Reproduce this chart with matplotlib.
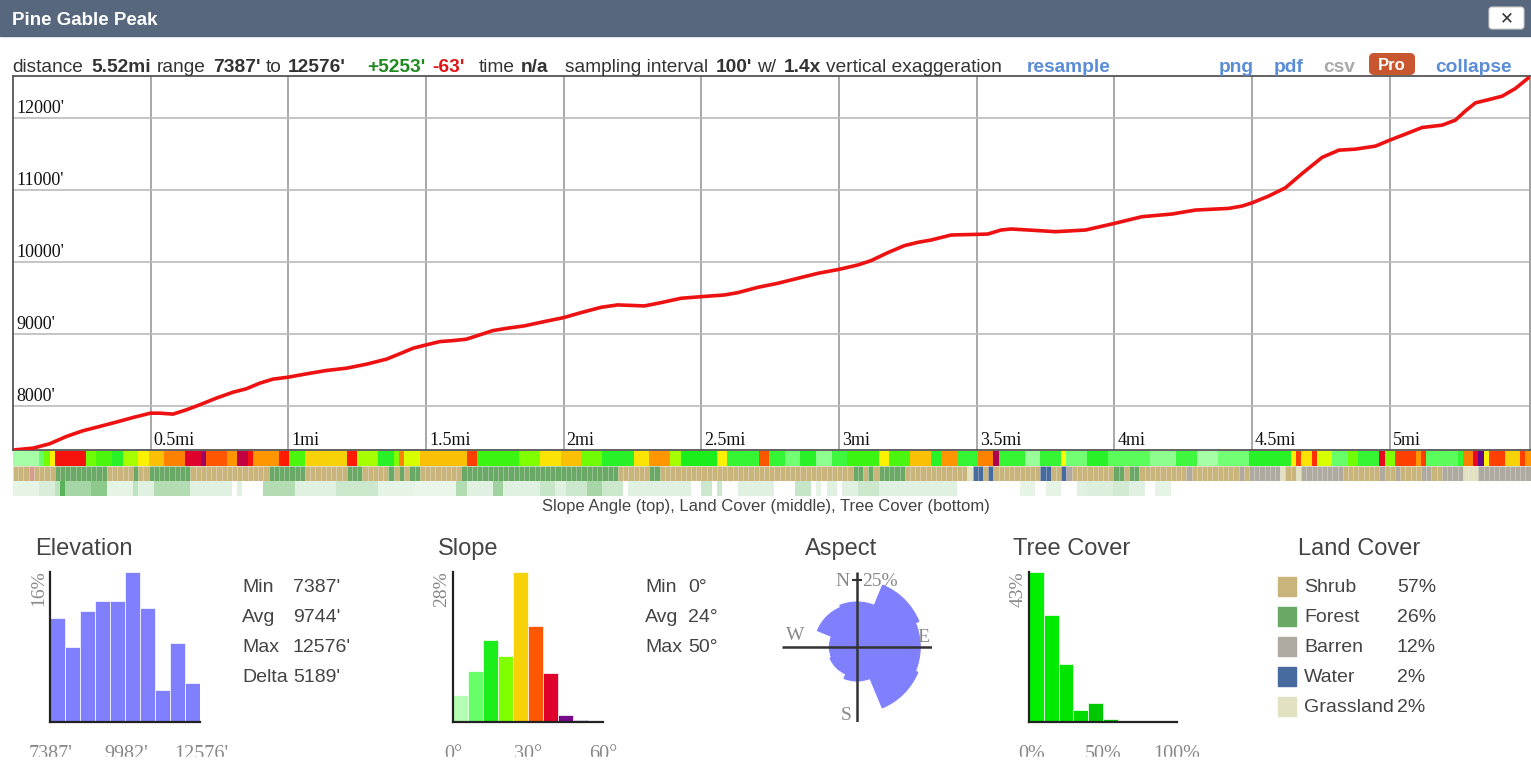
import numpy as np
import matplotlib
matplotlib.use("Agg")
import matplotlib.pyplot as plt
from matplotlib.colors import LinearSegmentedColormap
from matplotlib.patches import Rectangle, Wedge, FancyBboxPatch
from matplotlib.transforms import IdentityTransform

W, H = 1531, 766
SANS = "Liberation Sans"
SERIF = "Liberation Serif"

# ---- elevation profile (miles, feet) ----
dist_mi = [0.0, 0.073, 0.133, 0.194, 0.254, 0.315, 0.375, 0.436, 0.499, 0.533,
           0.581, 0.630, 0.678, 0.738, 0.799, 0.847, 0.896, 0.944, 0.999, 1.065,
           1.138, 1.211, 1.283, 1.356, 1.404, 1.453, 1.500, 1.550, 1.598, 1.646,
           1.695, 1.743, 1.792, 1.857, 1.930, 2.000, 2.063, 2.136, 2.196, 2.293,
           2.354, 2.426, 2.501, 2.584, 2.632, 2.705, 2.777, 2.850, 2.923, 3.001,
           3.068, 3.116, 3.177, 3.237, 3.286, 3.334, 3.407, 3.502, 3.540, 3.588,
           3.625, 3.689, 3.786, 3.895, 4.000, 4.100, 4.209, 4.294, 4.415, 4.463,
           4.501, 4.560, 4.621, 4.682, 4.754, 4.815, 4.875, 4.948, 5.000, 5.056,
           5.117, 5.190, 5.238, 5.275, 5.311, 5.360, 5.408, 5.456, 5.508, 5.520]
elev_ft = [7387, 7413, 7473, 7575, 7654, 7714, 7774, 7838, 7898, 7898,
           7885, 7945, 8014, 8106, 8189, 8236, 8314, 8370, 8397, 8443,
           8490, 8522, 8577, 8647, 8721, 8799, 8845, 8891, 8905, 8924,
           8984, 9044, 9075, 9109, 9169, 9224, 9293, 9367, 9400, 9386,
           9432, 9492, 9515, 9538, 9570, 9644, 9700, 9769, 9838, 9894,
           9954, 10014, 10125, 10222, 10268, 10300, 10370, 10379, 10383, 10439,
           10453, 10439, 10416, 10439, 10531, 10624, 10661, 10716, 10739, 10771,
           10818, 10910, 11025, 11224, 11446, 11547, 11561, 11603, 11686, 11769,
           11861, 11894, 11963, 12092, 12203, 12249, 12296, 12402, 12564, 12576]
mile_marks = [0.5, 1, 1.5, 2, 2.5, 3, 3.5, 4, 4.5, 5]
elev_marks = [8000, 9000, 10000, 11000, 12000]

# ---- strips: run-length lists of (cells, value), one cell = 100 ft ----
slope_runs = [
    (5, 4), (1, 9), (1, 20), (1, 25), (6, 37), (2, 20), (3, 18), (2, 14), (3, 22), (2, 25),
    (3, 28), (4, 31), (3, 39), (1, 43), (4, 33), (2, 30), (2, 41), (1, 37), (5, 30), (2, 36),
    (3, 18), (8, 27), (2, 36), (4, 22), (3, 14), (1, 21), (1, 31), (3, 23), (9, 28), (2, 34),
    (8, 17),
    (4, 21), (4, 26), (4, 28), (4, 20), (6, 14), (3, 26), (4, 30), (2, 22), (7, 15), (2, 25),
    (6, 13), (2, 33), (3, 13), (3, 8), (3, 14), (3, 6), (3, 12), (6, 17), (2, 25), (4, 18),
    (4, 28), (2, 14), (3, 30), (4, 13), (3, 31), (1, 42), (5, 13),
    (3, 5), (4, 13), (1, 24), (4, 8), (4, 14), (8, 10), (5, 6), (4, 12), (4, 4), (6, 8),
    (8, 14), (1, 25), (1, 34), (2, 26), (1, 35), (3, 23), (3, 9), (2, 20), (4, 13), (1, 38),
    (2, 21), (4, 34), (1, 30), (1, 34), (6, 10), (1, 13), (2, 31), (1, 38), (1, 46), (1, 25),
    (3, 34), (3, 27), (1, 34), (2, 30),
]
land_runs = [
    (3, "S"), (1, "D"), (4, "S"), (10, "F"), (5, "S"), (1, "F"), (2, "S"), (8, "F"), (15, "S"),
    (7, "F"), (8, "S"), (3, "F"), (5, "S"), (1, "F"), (1, "S"), (1, "F"), (1, "S"), (2, "F"),
    (8, "S"), (11, "F"),
    (19, "F"), (6, "S"), (2, "F"), (37, "S"), (2, "F"), (1, "S"), (1, "F"), (1, "S"), (5, "F"),
    (12, "S"), (1, "G"), (2, "W"), (1, "S"), (1, "W"), (4, "S"),
    (5, "S"), (2, "W"), (2, "S"), (1, "W"), (1, "B"), (8, "S"), (2, "F"), (1, "S"), (2, "F"),
    (9, "S"), (1, "B"), (9, "S"), (1, "B"), (1, "S"), (6, "B"), (1, "G"), (2, "S"), (1, "G"),
    (8, "B"), (7, "S"), (1, "B"), (2, "S"), (1, "B"), (4, "S"), (2, "B"), (2, "S"), (4, "B"),
    (3, "G"), (10, "B"),
]
tree_runs = [
    (5, 10), (3, 15), (1, 25), (1, 65), (5, 35), (1, 45), (2, 45), (5, 10), (1, 25), (3, 12),
    (7, 30), (8, 12), (1, 0), (1, 12), (4, 0), (6, 30), (8, 12), (8, 20), (7, 10), (8, 8),
    (2, 30), (5, 12), (2, 38), (3, 12),
    (4, 12), (3, 22), (2, 12), (4, 20), (3, 35), (4, 20), (1, 0), (12, 12), (2, 0), (2, 20),
    (1, 0), (1, 20), (3, 0), (7, 12), (4, 0), (3, 22), (1, 0), (1, 10), (1, 0), (2, 12),
    (1, 0), (3, 12), (4, 20), (15, 12), (12, 0),
    (3, 10), (2, 0), (3, 10), (3, 0), (2, 12), (5, 14), (3, 18), (3, 12), (2, 0), (3, 10),
    (70, 0),
]

# ---- histograms ----
elev_hist = [11.1, 8.0, 11.8, 12.9, 12.9, 16.0, 12.2, 3.4, 8.4, 4.2]
elev_ticks = ["7387'", "9982'", "12576'"]
elev_stats = [("Min", "7387'"), ("Avg", "9744'"), ("Max", "12576'"), ("Delta", "5189'")]

slope_hist = [5.1, 9.5, 15.4, 12.3, 28.0, 18.0, 9.2, 1.4, 0.3]
slope_ticks = ["0°", "30°", "60°"]
slope_stats = [("Min", "0°"), ("Avg", "24°"), ("Max", "50°")]

aspect_dir = [0, 45, 90, 135, 180, 225, 270, 315]
aspect_pct = [16.8, 25.0, 23.6, 24.6, 12.7, 10.9, 10.3, 16.0]

tree_hist = [43.0, 30.8, 16.5, 3.3, 5.5, 1.0, 0.3]
tree_colors = ["#00f000", "#00ea00", "#00e400", "#00dc00", "#00c800", "#00c000", "#00b400"]
tree_ticks = ["0%", "50%", "100%"]

land_names = ["Shrub", "Forest", "Barren", "Water", "Grassland"]
land_pct = ["57%", "26%", "12%", "2%", "2%"]
land_colors = {"S": "#c9b47c", "F": "#6aa866", "B": "#aeaaa0", "W": "#476a9f",
               "G": "#e2e2c2", "D": "#d99a90"}

slope_anchors = [(0, "#d9ffd9"), (3, "#b3ffb3"), (9, "#66ff66"), (15, "#1aee1a"),
                 (21, "#80ff00"), (24, "#ffff00"), (27, "#f7d308"), (30, "#ff9900"),
                 (33, "#ff5500"), (36, "#ff1a00"), (39, "#e0002a"), (42, "#b0004a"),
                 (45, "#7a0a8a"), (51, "#000080"), (60, "#000060")]
slope_cmap = LinearSegmentedColormap.from_list("slope", [(d / 60, c) for d, c in slope_anchors])
tree_cmap = LinearSegmentedColormap.from_list("tree", ["#ffffff", "#008a00"])

plt.rcParams["font.family"] = [SANS, "DejaVu Sans"]
fig = plt.figure(figsize=(W / 100, H / 100), dpi=100)
fig.patch.set_facecolor("white")


def box(x0, y0, x1, y1):
    return [x0 / W, 1 - y1 / H, (x1 - x0) / W, (y1 - y0) / H]


def ftext(x, y, s, **kw):
    return fig.text(x / W, 1 - y / H, s, **kw)


def pbox(x0, y0, x1, y1, r=4, **kw):
    p = FancyBboxPatch((x0, H - y1), x1 - x0, y1 - y0,
                       boxstyle=f"round,pad=0,rounding_size={r}",
                       transform=IdentityTransform(), **kw)
    fig.add_artist(p)
    return p


def expand(runs):
    out = []
    for n, v in runs:
        out += [v] * n
    return out


# header bar
fig.add_artist(Rectangle((0, 1 - 36 / H), 1, 36 / H, transform=fig.transFigure,
                         color="#56677e", zorder=0))
ftext(12, 25, "Pine Gable Peak", color="white", fontsize=13.5, weight="bold", va="baseline")
pbox(1489, 7, 1524, 29, r=3, facecolor="white", edgecolor="#cccccc", lw=0.8)
ftext(1506.5, 18, "✕", family="DejaVu Sans", weight="bold", fontsize=12,
      color="#333333", ha="center", va="center")

# summary line
BLUE, GREY, DARK = "#5b8dd6", "#aaaaaa", "#333333"
summary = [
    (12, "distance", "normal", DARK), (91, "5.52mi", "bold", DARK),
    (157, "range", "normal", DARK), (213, "7387'", "bold", DARK),
    (266, "to", "normal", DARK), (288, "12576'", "bold", DARK),
    (367, "+5253'", "bold", "#1f8a1f"), (432, "-63'", "bold", "#e01515"),
    (479, "time", "normal", DARK), (521, "n/a", "bold", DARK),
    (565, "sampling interval", "normal", DARK), (716, "100'", "bold", DARK),
    (757, "w/", "normal", DARK), (784, "1.4x", "bold", DARK),
    (826, "vertical exaggeration", "normal", DARK), (1027, "resample", "bold", BLUE),
    (1219, "png", "bold", BLUE), (1274, "pdf", "bold", BLUE),
    (1323, "csv", "bold", GREY), (1435, "collapse", "bold", BLUE),
]
for x, s, wgt, col in summary:
    ftext(x, 71.5, s, fontsize=13.8, weight=wgt, color=col, va="baseline")
pbox(1369, 53, 1415, 75, r=5, facecolor="#c8572f", edgecolor="none")
ftext(1392, 69.5, "Pro", color="white", weight="bold", fontsize=12, ha="center", va="baseline")

# main elevation profile
XMAX = (1530.5 - 13.3) / 275.3
ax = fig.add_axes(box(13, 76, 1530.5, 450))
ax.set_xlim(0, XMAX)
ax.set_ylim(7387, 12576)
for m in mile_marks:
    ax.axvline(m, color="#9a9a9a", lw=1.2, zorder=1)
    ax.annotate(f"{m:g}mi", xy=(m, 7387), xytext=(3, 5), textcoords="offset pixels",
                family=SERIF, fontsize=13, color="#111111", va="baseline")
for e in elev_marks:
    ax.axhline(e, color="#bbbbbb", lw=1.2, zorder=1)
    ax.annotate(f"{e}'", xy=(0, e), xytext=(3, 5), textcoords="offset pixels",
                family=SERIF, fontsize=13, color="#111111", va="baseline")
ax.plot(dist_mi, elev_ft, color="#ee1111", lw=2.6, solid_capstyle="round", zorder=3)
ax.set_xticks([])
ax.set_yticks([])
for s in ("top", "bottom", "left", "right"):
    ax.spines[s].set_color("#555555")
    ax.spines[s].set_linewidth(1.3)
ax.spines["right"].set_color("#9a9a9a")

# strips
cell = 100 / 5280
sax = fig.add_axes(box(13, 451, 1531, 496))
sax.set_xlim(0, (1531 - 13.3) / 275.3)
sax.set_ylim(3, 0)
slope_vals = expand(slope_runs)
land_vals = expand(land_runs)
tree_vals = expand(tree_runs)
sax.bar(np.arange(len(slope_vals)) * cell, 1, width=cell, bottom=0, align="edge",
        color=[slope_cmap(v / 60) for v in slope_vals], linewidth=0)
sax.bar(np.arange(len(land_vals)) * cell, 1, width=cell, bottom=1, align="edge",
        color=[land_colors[v] for v in land_vals], edgecolor=(1, 1, 1, 0.1), linewidth=0.4)
sax.bar(np.arange(len(tree_vals)) * cell, 1, width=cell, bottom=2, align="edge",
        color=[tree_cmap(v / 100) for v in tree_vals], linewidth=0)
sax.axis("off")
ftext(766, 507, "Slope Angle (top), Land Cover (middle), Tree Cover (bottom)",
      fontsize=12, color="#444444", ha="center", va="center")


# lower panels
def hist_axes(px, edges, vals, colors, ymax, xlim):
    a = fig.add_axes(box(*px))
    a.bar(edges[:-1], vals, width=np.diff(edges), align="edge", color=colors,
          edgecolor="white", linewidth=0.5)
    a.set_xlim(*xlim)
    a.set_ylim(0, ymax)
    for s in ("top", "right"):
        a.spines[s].set_visible(False)
    for s in ("left", "bottom"):
        a.spines[s].set_color("#222222")
        a.spines[s].set_linewidth(1.6)
    a.set_xticks([])
    a.set_yticks([])
    a.patch.set_alpha(0)
    return a


GRAY_TXT = "#888888"
title_kw = dict(fontsize=17, color="#444444", va="center")

# elevation
ftext(35, 549, "Elevation", **title_kw)
e_edges = np.linspace(7387, 12576, len(elev_hist) + 1)
hist_axes((50, 572, 200, 722), e_edges, elev_hist, "#8080ff", max(elev_hist), (7387, 12576))
ftext(38.5, 588, f"{max(elev_hist):.0f}%", family=SERIF, fontsize=14, color=GRAY_TXT,
      rotation=90, ha="center", va="center")
for x, s in zip((51, 126, 201), elev_ticks):
    ftext(x, 759, s, family=SERIF, fontsize=14.5, color=GRAY_TXT, ha="center", va="baseline")
for i, (k, v) in enumerate(elev_stats):
    ftext(242, 588 + 30 * i, k, fontsize=14, color="#444444", va="center")
    ftext(293, 588 + 30 * i, v, fontsize=14, color="#444444", va="center")

# slope
ftext(438, 549, "Slope", **title_kw)
s_edges = np.arange(len(slope_hist) + 1) * 6.0
s_cols = [slope_cmap((lo + 3) / 60) for lo in s_edges[:-1]]
hist_axes((453, 572, 603, 722), s_edges, slope_hist, s_cols, max(slope_hist), (0, 60))
ftext(442, 589, f"{max(slope_hist):.0f}%", family=SERIF, fontsize=14, color=GRAY_TXT,
      rotation=90, ha="center", va="center")
for x, s in zip((453, 528, 603), slope_ticks):
    ftext(x, 759, s, family=SERIF, fontsize=14.5, color=GRAY_TXT, ha="center", va="baseline")
for i, (k, v) in enumerate(slope_stats):
    ftext(645, 588 + 30 * i, k, fontsize=14, color="#444444", va="center")
    ftext(688, 588 + 30 * i, v, fontsize=14, color="#444444", va="center")

# aspect rose
ftext(805, 549, "Aspect", **title_kw)
aax = fig.add_axes(box(782, 572, 932, 722))
aax.set_xlim(-28, 28)
aax.set_ylim(-28, 28)
aax.axis("off")
for b, r in zip(aspect_dir, aspect_pct):
    aax.add_patch(Wedge((0, 0), r, 90 - b - 22.5, 90 - b + 22.5,
                        facecolor="#8080ff", edgecolor="#8080ff", lw=0.8))
aax.plot([-28, 28], [0, 0], color="#333333", lw=1.8, solid_capstyle="butt")
aax.plot([0, 0], [-28, 28], color="#333333", lw=1.8, solid_capstyle="butt")
aax.plot([-1.4, 1.4], [25, 25], color="#333333", lw=1.5)
comp_kw = dict(family=SERIF, fontsize=14, color=GRAY_TXT, va="center")
ftext(850, 582, "N", ha="right", **comp_kw)
ftext(862, 582, "25%", ha="left", **comp_kw)
ftext(795, 635, "W", ha="center", **comp_kw)
ftext(923, 637, "E", ha="center", **comp_kw)
ftext(846, 715, "S", ha="center", **comp_kw)

# tree cover
ftext(1013, 549, "Tree Cover", **title_kw)
t_edges = np.arange(len(tree_hist) + 1) * 10.0
hist_axes((1029, 572, 1177, 722), t_edges, tree_hist, tree_colors, max(tree_hist), (0, 100))
ftext(1018, 589, f"{max(tree_hist):.0f}%", family=SERIF, fontsize=14, color=GRAY_TXT,
      rotation=90, ha="center", va="center")
for x, s in zip((1032, 1103, 1177), tree_ticks):
    ftext(x, 759, s, family=SERIF, fontsize=14.5, color=GRAY_TXT, ha="center", va="baseline")

# land cover legend
ftext(1298, 549, "Land Cover", **title_kw)
for i, (name, pct) in enumerate(zip(land_names, land_pct)):
    yc = 586 + 30 * i
    fig.add_artist(Rectangle((1278 / W, 1 - (yc + 9.5) / H), 18 / W, 19 / H,
                             transform=fig.transFigure, color=land_colors[name[0]]))
    ftext(1304, yc + 1, name, fontsize=14, color="#444444", va="center")
    ftext(1397, yc + 1, pct, fontsize=14, color="#444444", va="center")

# panel clips the bottom labels
fig.add_artist(Rectangle((0, 0), 1, 9 / H, transform=fig.transFigure,
                         color="white", zorder=100))

fig.savefig("out.png", dpi=100)
